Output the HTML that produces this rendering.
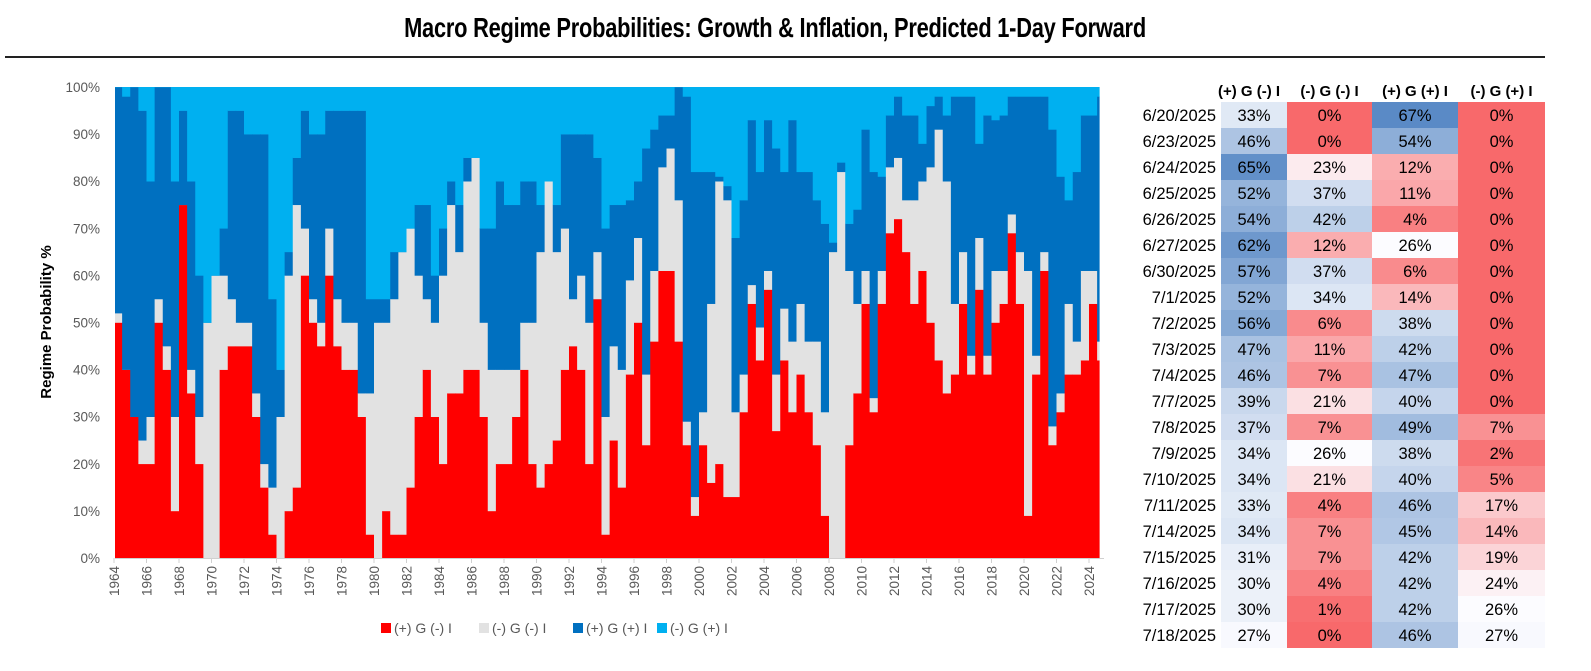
<!DOCTYPE html>
<html><head><meta charset="utf-8">
<style>
body{margin:0;width:1591px;height:671px;background:#fff;overflow:hidden;font-family:"Liberation Sans",sans-serif;}
#title{position:absolute;left:0;width:1550px;top:12px;text-align:center;font-family:"Liberation Sans Narrow","Liberation Sans",sans-serif;font-weight:bold;font-size:28px;color:#000;transform:scaleX(0.78);transform-origin:775px 0;letter-spacing:-0.3px;}
#rule{position:absolute;left:5px;top:56px;width:1540px;height:2px;background:#222;}
svg{position:absolute;left:0;top:0;}
</style></head><body>
<div id="title">Macro Regime Probabilities: Growth &amp; Inflation, Predicted 1-Day Forward</div>
<div id="rule"></div>
<svg id="chart" width="1591" height="671"></svg>
<script>
const years=[];for(let y=1964;y<=2024.5;y+=0.5)years.push(y);
const redVals=[50,40,30,20,20,50,40,10,75,35,20,0,0,40,45,45,45,30,15,5,0,10,15,60,50,45,60,45,40,40,30,5,0,10,5,5,15,30,40,30,20,35,35,40,40,30,10,20,20,30,40,20,15,20,25,40,45,40,20,55,5,25,15,39,50,24,46,61,61,46,24,9,24,16,20,13,13,31,54,42,57,27,42,31,39,31,24,9,0,0,24,35,54,31,54,69,72,65,54,61,50,42,35,39,54,39,57,39,50,54,69,54,9,39,61,24,31,39,39,42,54,42];
const grayVals=[2,0,0,5,10,5,5,20,0,5,10,50,60,20,10,5,5,5,5,10,30,50,60,10,5,5,10,10,10,10,5,30,50,40,50,60,55,30,15,20,40,40,30,40,45,20,30,20,20,10,10,30,50,60,40,30,10,20,30,10,25,20,25,20,18,15,15,22,26,30,5,4,7,38,60,63,18,8,4,7,4,12,11,15,15,15,22,22,65,82,37,19,7,3,7,14,13,11,22,19,33,49,45,15,11,4,11,4,11,7,4,11,52,4,4,4,4,15,7,19,7,4];
const dblueVals=[48,58,70,70,50,45,55,50,20,40,30,0,0,10,40,45,40,55,70,40,10,5,10,25,35,40,25,40,45,45,60,20,5,5,10,0,0,15,20,10,10,5,10,5,0,20,30,40,35,35,30,30,10,0,10,20,35,30,40,20,40,30,35,17,12,48,30,11,7,24,69,69,51,28,1,3,37,37,35,33,32,48,29,47,28,36,30,40,2,2,10,20,30,48,20,11,13,18,18,8,13,7,14,44,33,55,20,51,32,33,25,33,37,55,33,63,46,22,36,33,33,52];
const yTicks=[0,10,20,30,40,50,60,70,80,90,100];
const xTickYears=[];for(let y=1964;y<=2024;y+=2)xTickYears.push(y);
const legendNames=["(+) G (-) I","(-) G (-) I","(+) G (+) I","(-) G (+) I"];
const colors=["#FF0000","#E2E2E2","#0070C0","#00B0F0"];
const tableDates=["6/20/2025","6/23/2025","6/24/2025","6/25/2025","6/26/2025","6/27/2025","6/30/2025","7/1/2025","7/2/2025","7/3/2025","7/4/2025","7/7/2025","7/8/2025","7/9/2025","7/10/2025","7/11/2025","7/14/2025","7/15/2025","7/16/2025","7/17/2025","7/18/2025"];
const col1=[33,46,65,52,54,62,57,52,56,47,46,39,37,34,34,33,34,31,30,30,27];
const col2=[0,0,23,37,42,12,37,34,6,11,7,21,7,26,21,4,7,7,4,1,0];
const col3=[67,54,12,11,4,26,6,14,38,42,47,40,49,38,40,46,45,42,42,42,46];
const col4=[0,0,0,0,0,0,0,0,0,0,0,0,7,2,5,17,14,19,24,26,27];

const NS="http://www.w3.org/2000/svg";
const svg=document.getElementById('chart');
const X0=115,X1=1099,Y0=558,Y1=87;
const xs=y=>114+16.25*(y-1964);
const ys=v=>Y0-(Y0-Y1)*v/100;
function mk(tag,attrs,parent){const e=document.createElementNS(NS,tag);for(const k in attrs)e.setAttribute(k,attrs[k]);(parent||svg).appendChild(e);return e;}
const gBars=mk('g',{});


years.forEach((yr,i)=>{
  const x=Math.max(X0,xs(yr)), x2=Math.min(X1,xs(yr+0.5));
  const w=x2-x+0.6;
  const vals=[redVals[i],grayVals[i],dblueVals[i]];
  vals.push(Math.max(0,100-vals[0]-vals[1]-vals[2]));
  let acc=0;
  vals.forEach((v,k)=>{
    const r=mk('rect',{x:x,y:ys(acc+v),width:w,height:ys(acc)-ys(acc+v)+0.3,fill:colors[k]},gBars);
    
    
    acc+=v;
  });
});
const ax=mk('line',{x1:X0,x2:1104,y1:Y0+0.5,y2:Y0+0.5,stroke:'#d0d0d0','stroke-width':1});


yTicks.forEach(v=>{
  const t=mk('text',{x:100,y:ys(v)+5,'text-anchor':'end','font-size':13.5,fill:'#595959'});
  t.textContent=v+'%';
  
  
});
xTickYears.forEach(yr=>{
  const x=xs(yr);
  mk('line',{x1:x,x2:x,y1:Y0,y2:Y0+5,stroke:'#d0d0d0'});
  const t=mk('text',{x:0,y:0,'text-anchor':'end','font-size':13.5,fill:'#595959',transform:`translate(${x+5},${Y0+8}) rotate(-90)`});
  t.textContent=yr;
  
  
});
const yt=mk('text',{x:0,y:0,'text-anchor':'middle','font-size':15,'font-weight':'bold',fill:'#000',transform:'translate(51,322) rotate(-90)'});
yt.textContent='Regime Probability %';


const lx=[386,484,578,662];
legendNames.forEach((n,k)=>{
  const g=mk('g',{});
  
  
  mk('rect',{x:lx[k]-5,y:623,width:10,height:10,fill:colors[k]},g);
  const t=mk('text',{x:lx[k]+8,y:633,'font-size':14,fill:'#595959'},g);
  t.textContent=n;
});
function lerp(a,b,t){return a.map((c,i)=>Math.round(c+(b[i]-c)*t));}
function cellColor(v){const red=[248,105,107],wh=[252,252,255],bl=[90,138,198],mid=26,max=67;
  const c=v<=mid?lerp(red,wh,v/mid):lerp(wh,bl,Math.min(1,(v-mid)/(max-mid)));return `rgb(${c})`;}
const colX=[1221,1287,1372,1458],colW=[66,85,86,87];
const heads=["(+) G (-) I","(-) G (-) I","(+) G (+) I","(-) G (+) I"];
const cols=[col1,col2,col3,col4];
heads.forEach((h,k)=>{
  const t=mk('text',{x:colX[k]+colW[k]/2+(k==0?-5:0),y:96,'text-anchor':'middle','font-size':15,'font-weight':'bold',fill:'#000'});
  t.textContent=h;
  
  
});
tableDates.forEach((d,i)=>{
  const y=102+i*26;
  const t=mk('text',{x:1216,y:y+19,'text-anchor':'end','font-size':16.5,fill:'#000'});
  t.textContent=d;
  
  
  cols.forEach((c,k)=>{
    const r=mk('rect',{x:colX[k],y:y,width:colW[k],height:26,fill:cellColor(c[i])});
    
    
    const tt=mk('text',{x:colX[k]+colW[k]/2,y:y+19,'text-anchor':'middle','font-size':16.5,fill:'#000'});
    tt.textContent=c[i]+'%';
  });
});
</script>
</body></html>
